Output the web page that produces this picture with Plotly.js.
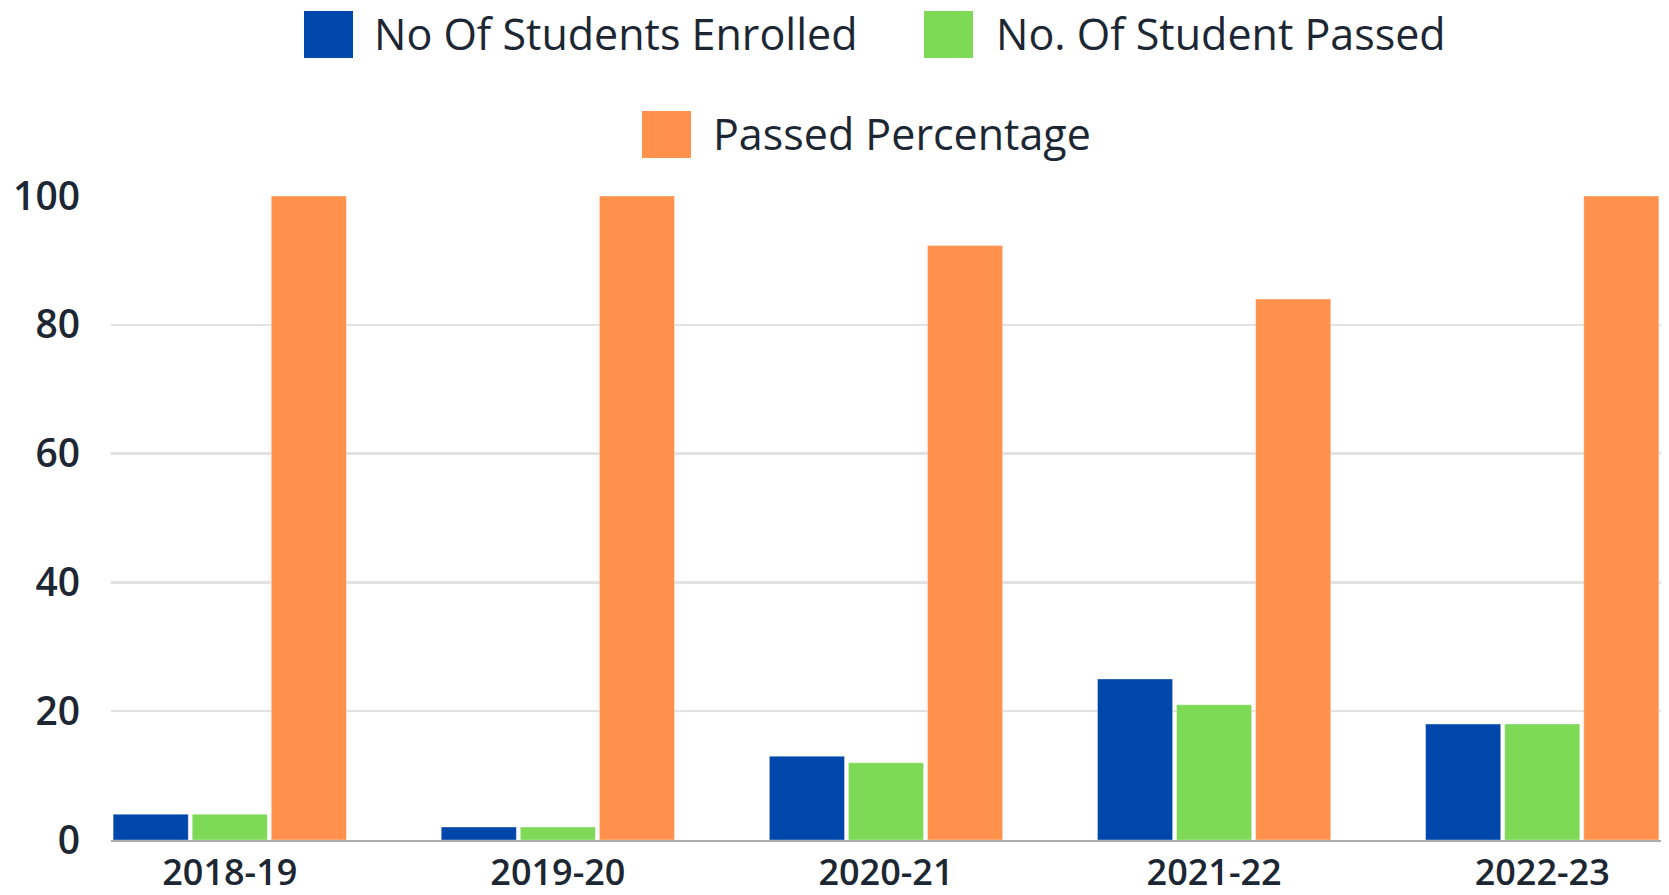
<!DOCTYPE html>
<html>
<head>
<meta charset="utf-8">
<script src="https://cdn.plot.ly/plotly-3.0.1.min.js"></script>
<style>html,body{margin:0;padding:0;background:#fff;}#chart{width:1669px;height:895px;}</style>
</head>
<body>
<div id="chart"></div>
<script>
const years = ["2018-19", "2019-20", "2020-21", "2021-22", "2022-23"];
const enrolled = [4, 2, 13, 25, 18];
const passed = [4, 2, 12, 21, 18];
const passedPct = [100, 100, 92.3, 84, 100];
const seriesNames = ["No Of Students Enrolled", "No. Of Student Passed", "Passed Percentage"];
const seriesColors = ["#0047AB", "#7ED957", "#FF914D"];
const yTicks = [0, 20, 40, 60, 80, 100];

const W = 1669, H = 895;
const M = {l: 111, r: 8, t: 196, b: 55};
const pw = W - M.l - M.r, ph = H - M.t - M.b;
const px = x => (x - M.l) / pw;
const py = y => (H - M.b - y) / ph;

const textColor = "#1c2733";
const font = "Open Sans, Noto Sans, sans-serif";

const traces = [enrolled, passed, passedPct].map((vals, i) => ({
  type: "bar",
  x: years,
  y: vals,
  name: seriesNames[i],
  marker: {color: seriesColors[i], line: {color: "rgba(255,255,255,0.35)", width: 1}},
  showlegend: false,
  hoverinfo: "x+y+name"
}));

// custom legend (boxes + labels)
const legendItems = [
  {x0: 304, x1: 353, y0: 11, y1: 58, tx: 372, ty: 33},
  {x0: 924, x1: 973, y0: 11, y1: 58, tx: 994, ty: 33},
  {x0: 642, x1: 691, y0: 111, y1: 158, tx: 711, ty: 133}
];
const shapes = legendItems.map((it, i) => ({
  type: "rect", xref: "paper", yref: "paper",
  x0: px(it.x0), x1: px(it.x1), y0: py(it.y1), y1: py(it.y0),
  fillcolor: seriesColors[i], line: {width: 0}
}));
const annotations = legendItems.map((it, i) => ({
  xref: "paper", yref: "paper", x: px(it.tx), y: py(it.ty),
  xanchor: "left", yanchor: "middle", showarrow: false,
  text: seriesNames[i], font: {family: font, size: 43, weight: 500, color: textColor}
}));

const layout = {
  width: W, height: H,
  margin: M,
  paper_bgcolor: "#fff", plot_bgcolor: "#fff",
  barmode: "group",
  bargap: 0.277,
  bargroupgap: 0.05,
  showlegend: false,
  xaxis: {
    type: "category",
    range: [-0.362, 4.362],
    showgrid: false,
    showline: true, linecolor: "#a9adb2", linewidth: 2,
    ticks: "", ticklabelstandoff: 0,
    tickfont: {family: font, size: 36, weight: 600, color: textColor},
    fixedrange: true
  },
  yaxis: {
    range: [0, 100],
    tickvals: yTicks,
    ticktext: yTicks.map(String),
    showgrid: true, gridcolor: "#e2e2e2", gridwidth: 2.5,
    zeroline: false, showline: false,
    ticks: "", ticklabelstandoff: 30,
    tickfont: {family: font, size: 39, weight: 600, color: textColor},
    fixedrange: true
  },
  shapes: shapes,
  annotations: annotations
};

Plotly.newPlot("chart", traces, layout, {displayModeBar: false, staticPlot: true});
</script>
</body>
</html>
